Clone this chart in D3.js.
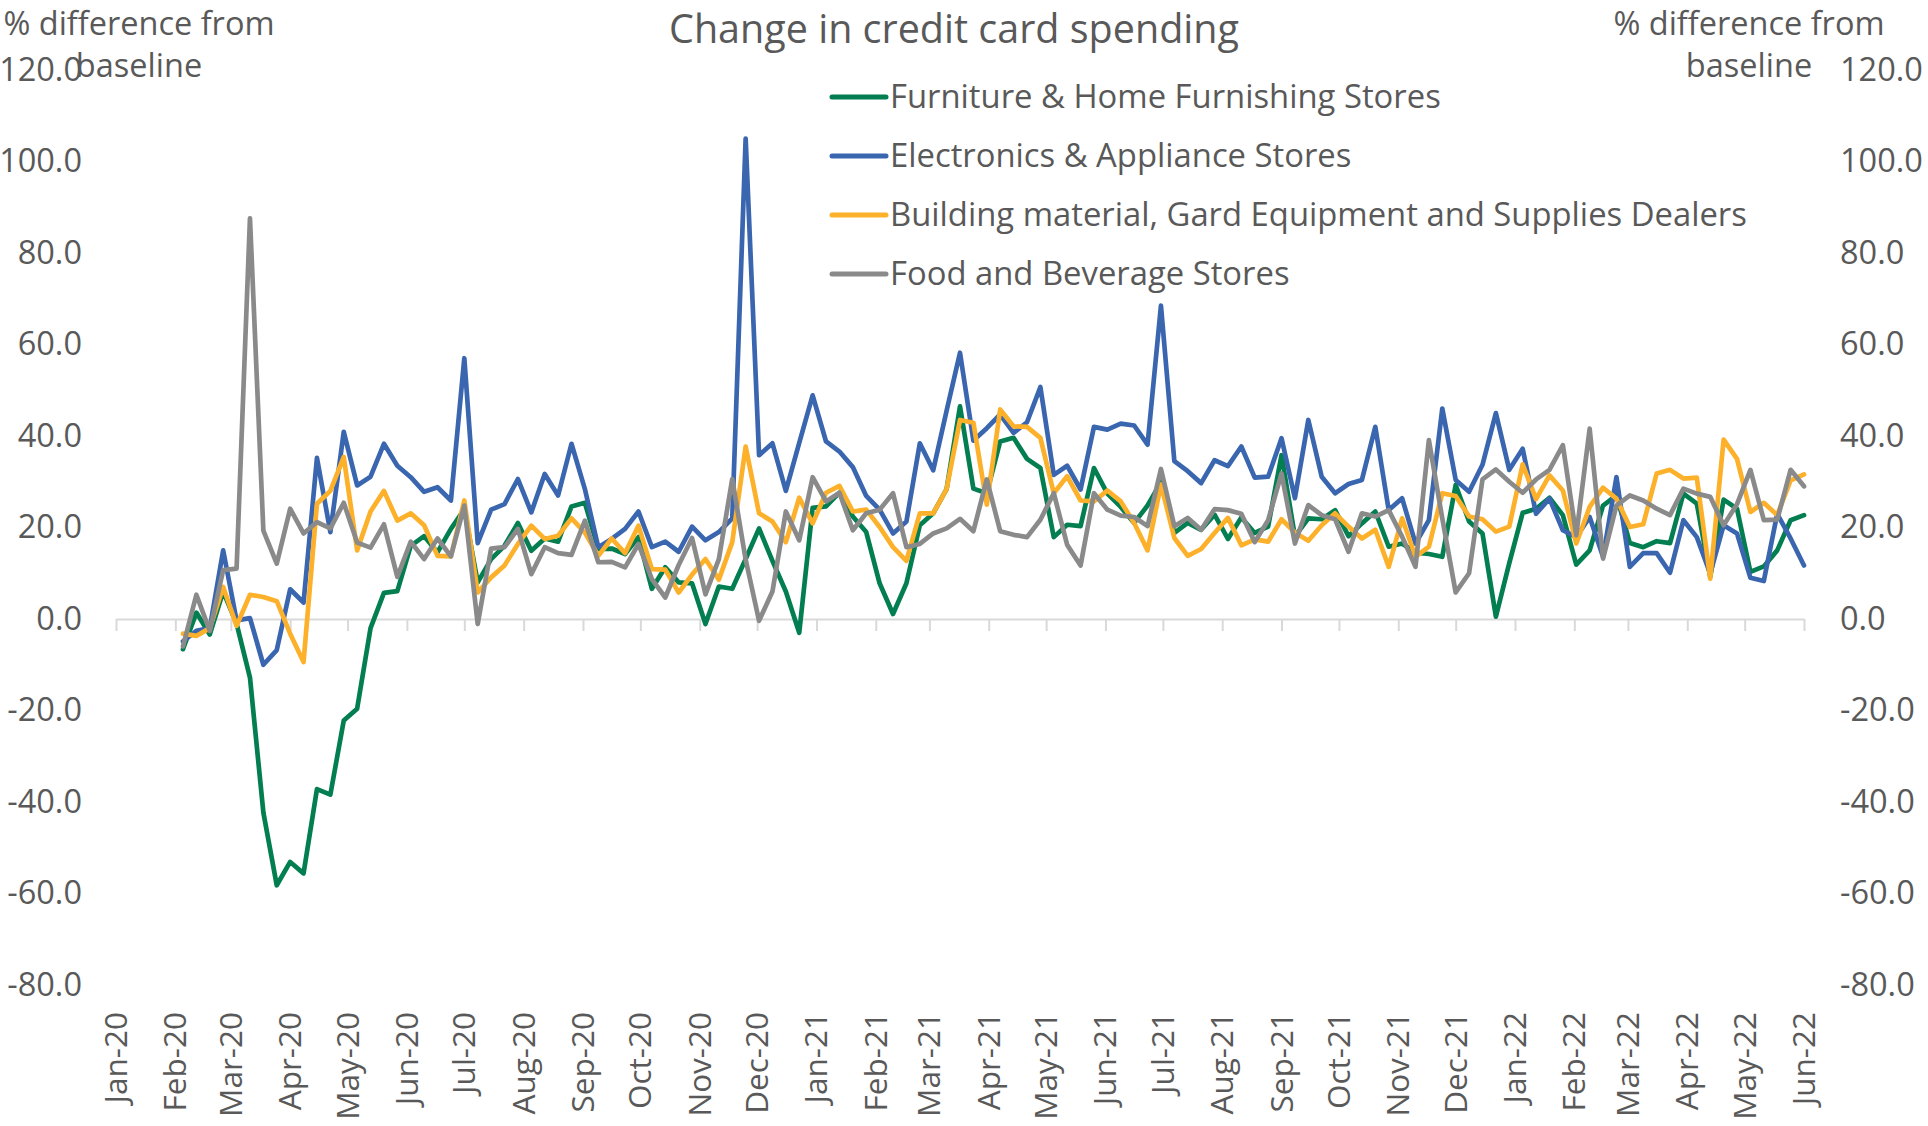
<!DOCTYPE html>
<html>
<head>
<meta charset="utf-8">
<script src="https://cdn.jsdelivr.net/npm/d3@7"></script>
<style>
  body { margin: 0; background: #fff; }
  text { font-family: "Open Sans", sans-serif; fill: #595959; }
</style>
</head>
<body>
<div id="chart"></div>
<script>
// Weekly observations (Wednesdays), Feb-20 to Jun-22
const firstWeek = new Date(2020, 1, 5);
const lastWeek = new Date(2022, 5, 1);

const seriesNames = [
  "Furniture & Home Furnishing Stores",
  "Electronics & Appliance Stores",
  "Building material, Gard Equipment and Supplies Dealers",
  "Food and Beverage Stores"
];
const seriesColors = ["#037E50", "#3A65AF", "#FDB02A", "#8A8A8A"];

const furniture = [
  -6.6, 1.4, -3.4, 6.0, -1.0, -12.8, -42.3, -58.2, -53.1, -55.6, -37.2, -38.4, -22.2, -19.6, -2.0, 5.7,
  6.1, 16.0, 18.1, 14.6, 19.7, 24.0, 8.0, 13.1, 16.0, 21.0, 14.9, 17.6, 16.9, 24.6, 25.4, 15.3,
  15.4, 14.2, 17.9, 6.6, 11.3, 8.0, 7.8, -1.1, 7.1, 6.6, 13.1, 19.8, 12.7, 6.0, -3.0, 24.3,
  24.6, 27.6, 22.4, 19.0, 7.8, 1.1, 7.8, 20.5, 23.1, 28.4, 46.5, 28.5, 27.5, 38.8, 39.6, 35.0,
  33.0, 17.9, 20.6, 20.3, 33.0, 27.4, 24.5, 21.0, 24.8, 29.9, 18.8, 21.0, 19.5, 22.8, 17.5, 22.2,
  18.8, 20.2, 35.8, 18.0, 22.0, 21.8, 23.8, 18.1, 20.9, 23.5, 15.8, 16.5, 14.5, 14.2, 13.6, 29.3,
  21.3, 18.7, 0.5, 12.2, 23.2, 24.1, 26.5, 22.7, 11.9, 15.0, 24.8, 27.0, 16.6, 15.7, 17.0, 16.6,
  27.4, 25.2, 9.2, 26.1, 24.1, 10.3, 11.5, 15.0, 21.6, 22.7
];
const electronics = [
  -4.9, -2.6, -2.0, 15.0, -0.3, 0.2, -10.0, -6.8, 6.5, 3.6, 35.2, 19.0, 40.9, 29.2, 31.1, 38.3,
  33.5, 31.0, 27.8, 28.8, 25.9, 57.0, 16.6, 23.9, 25.1, 30.6, 23.3, 31.7, 27.0, 38.3, 28.4, 15.7,
  17.5, 19.7, 23.5, 15.7, 16.9, 14.7, 20.2, 17.2, 19.0, 22.0, 105.0, 35.8, 38.4, 28.0, 38.5, 48.9,
  38.8, 36.6, 33.2, 26.9, 23.9, 18.7, 21.3, 38.4, 32.5, 45.5, 58.2, 39.0, 41.7, 44.7, 40.7, 43.0,
  50.7, 31.5, 33.5, 28.3, 42.0, 41.4, 42.7, 42.3, 38.1, 68.5, 34.5, 32.3, 29.7, 34.7, 33.4, 37.7,
  30.9, 31.1, 39.5, 26.4, 43.5, 31.1, 27.5, 29.5, 30.4, 42.0, 23.8, 26.4, 16.5, 21.6, 46.0, 30.4,
  27.8, 33.7, 45.0, 32.6, 37.2, 23.0, 26.3, 19.4, 17.9, 22.3, 13.6, 31.0, 11.4, 14.4, 14.4, 10.1,
  21.6, 17.9, 9.9, 20.5, 18.7, 9.0, 8.3, 23.0, 17.6, 11.7
];
const building = [
  -3.2, -3.7, -2.0, 7.0, -1.5, 5.3, 4.8, 3.9, -3.2, -9.4, 25.2, 28.0, 35.4, 15.0, 23.5, 28.0,
  21.5, 23.1, 20.5, 13.8, 13.7, 25.9, 5.8, 9.1, 11.7, 16.4, 20.4, 17.5, 18.2, 22.0, 18.9, 13.8,
  17.6, 14.4, 20.4, 10.9, 10.8, 5.8, 9.7, 13.1, 8.6, 16.8, 37.7, 23.1, 21.3, 16.8, 26.5, 20.9,
  27.6, 29.1, 23.5, 23.9, 20.1, 15.7, 12.7, 23.1, 23.1, 28.4, 43.5, 42.9, 25.0, 45.8, 42.1, 42.0,
  39.6, 27.5, 31.2, 25.9, 25.7, 28.1, 25.7, 21.0, 15.0, 29.4, 17.7, 13.8, 15.3, 18.8, 22.1, 16.1,
  17.4, 16.9, 21.8, 18.9, 17.1, 20.5, 23.1, 20.2, 17.6, 19.5, 11.4, 22.0, 13.6, 15.8, 27.5, 26.9,
  22.4, 21.8, 19.1, 20.2, 33.8, 26.2, 31.4, 28.1, 16.5, 24.5, 28.7, 26.3, 20.1, 20.7, 31.8, 32.6,
  30.7, 30.9, 8.8, 39.2, 35.0, 23.4, 25.4, 22.7, 30.3, 31.6
];
const food = [
  -6.0, 5.3, -2.6, 10.7, 11.0, 87.6, 19.3, 12.1, 24.1, 18.7, 21.2, 19.8, 25.4, 16.7, 15.6, 20.7,
  9.2, 16.9, 13.1, 17.6, 13.7, 24.8, -1.1, 15.4, 15.7, 19.7, 9.8, 15.7, 14.4, 14.0, 21.5, 12.4,
  12.5, 11.3, 16.4, 8.7, 4.7, 11.8, 17.7, 5.4, 13.1, 30.6, 13.0, -0.4, 6.0, 23.5, 17.2, 31.0,
  25.7, 27.6, 19.4, 23.1, 23.9, 27.5, 15.7, 16.4, 18.7, 19.8, 21.9, 19.2, 30.5, 19.2, 18.4, 17.9,
  21.7, 27.5, 16.2, 11.7, 27.5, 23.9, 22.6, 22.3, 20.3, 32.8, 20.3, 22.1, 19.5, 24.0, 23.8, 23.0,
  16.8, 21.6, 31.8, 16.5, 24.9, 22.7, 21.8, 14.7, 23.1, 22.4, 23.8, 18.0, 11.4, 39.1, 22.0, 5.8,
  10.0, 30.5, 32.7, 30.0, 27.6, 30.5, 32.6, 38.0, 18.3, 41.6, 13.2, 24.8, 27.0, 25.9, 24.1, 22.7,
  28.5, 27.4, 26.7, 20.5, 25.1, 32.6, 21.6, 21.7, 32.6, 29.0
];

const yTicks = [-80, -60, -40, -20, 0, 20, 40, 60, 80, 100, 120];

const width = 1928, height = 1126;
const weeks = d3.timeWednesday.range(firstWeek, d3.timeDay.offset(lastWeek, 1));
const months = d3.timeMonth.range(new Date(2020, 0, 1), new Date(2022, 5, 2));
const allSeries = [furniture, electronics, building, food];

const x = d3.scaleTime()
  .domain([new Date(2020, 0, 1), new Date(2022, 5, 1)])
  .range([116, 1804]);
const y = d3.scaleLinear().domain([-80, 120]).range([985, 70]);

const svg = d3.select("#chart").append("svg")
  .attr("width", width)
  .attr("height", height);

// titulo
svg.append("text")
  .attr("x", 954).attr("y", 43)
  .attr("text-anchor", "middle")
  .style("font-size", "39.5px")
  .text("Change in credit card spending");

// titulos dos eixos
[139, 1749].forEach(cx => {
  const t = svg.append("text")
    .attr("text-anchor", "middle")
    .style("font-size", "32.5px");
  t.append("tspan").attr("x", cx).attr("y", 35).text("% difference from");
  t.append("tspan").attr("x", cx).attr("y", 77).text("baseline");
});

// eixo y esquerdo e direito
const fmt = d => d.toFixed(1);
svg.append("g")
  .attr("transform", "translate(82,0)")
  .call(d3.axisLeft(y).tickValues(yTicks).tickFormat(fmt).tickSize(0).tickPadding(0))
  .call(g => g.select(".domain").remove())
  .selectAll("text").style("font-size", "32.5px").attr("fill", "#595959");

svg.append("g")
  .attr("transform", "translate(1840,0)")
  .call(d3.axisRight(y).tickValues(yTicks).tickFormat(fmt).tickSize(0).tickPadding(0))
  .call(g => g.select(".domain").remove())
  .selectAll("text").style("font-size", "32.5px").attr("fill", "#595959");

// eixo x: linha no zero com marcas mensais
const xAxis = svg.append("g")
  .attr("transform", `translate(0,${y(0)})`)
  .call(d3.axisBottom(x).tickValues(months).tickFormat("").tickSize(12).tickSizeOuter(0));
xAxis.select(".domain").attr("stroke", "#d9d9d9").attr("stroke-width", 2);
xAxis.selectAll(".tick line").attr("stroke", "#d9d9d9").attr("stroke-width", 2);

// rotulos de mes embaixo
svg.append("g")
  .selectAll("text")
  .data(months)
  .join("text")
  .attr("transform", d => `translate(${x(d)},1012) rotate(-90)`)
  .attr("text-anchor", "end")
  .attr("dy", "0.35em")
  .style("font-size", "31.5px")
  .text(d3.timeFormat("%b-%y"));

// linhas
const line = d3.line()
  .x((d, i) => x(weeks[i]))
  .y(d => y(d));

svg.append("g")
  .selectAll("path")
  .data(allSeries)
  .join("path")
  .attr("fill", "none")
  .attr("stroke", (d, i) => seriesColors[i])
  .attr("stroke-width", 4.7)
  .attr("stroke-linejoin", "round")
  .attr("stroke-linecap", "round")
  .attr("d", line);

// legenda
const legendY = [97, 156, 215, 274];
const legend = svg.append("g")
  .selectAll("g")
  .data(seriesNames)
  .join("g")
  .attr("transform", (d, i) => `translate(0,${legendY[i]})`);

legend.append("line")
  .attr("x1", 832).attr("x2", 886)
  .attr("stroke", (d, i) => seriesColors[i])
  .attr("stroke-width", 5)
  .attr("stroke-linecap", "round");

legend.append("text")
  .attr("x", 890)
  .attr("dy", "0.35em")
  .style("font-size", "32.8px")
  .text(d => d);
</script>
</body>
</html>
